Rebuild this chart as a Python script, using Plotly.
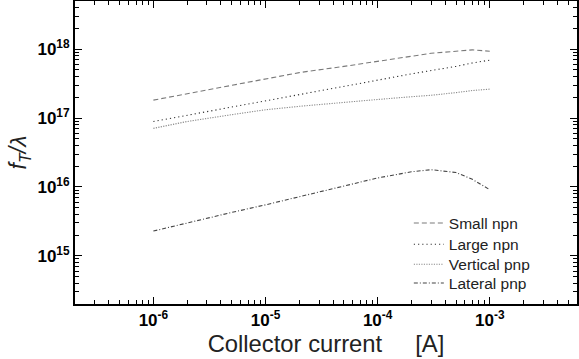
import plotly.graph_objects as go

current = [1e-6, 2e-6, 5e-6, 1e-5, 2e-5, 5e-5, 1e-4, 2e-4, 3e-4, 5e-4, 7e-4, 1e-3]
small_npn = [1.82e17, 2.24e17, 3.02e17, 3.72e17, 4.57e17, 5.62e17, 6.61e17, 7.94e17, 8.71e17, 9.33e17, 9.77e17, 9.33e17]
large_npn = [8.91e16, 1.10e17, 1.45e17, 1.78e17, 2.19e17, 2.88e17, 3.63e17, 4.37e17, 4.90e17, 5.62e17, 6.31e17, 6.92e17]
vertical_pnp = [7.08e16, 8.91e16, 1.12e17, 1.32e17, 1.48e17, 1.70e17, 1.86e17, 2.04e17, 2.14e17, 2.34e17, 2.51e17, 2.63e17]
lateral_pnp = [2.29e15, 3.02e15, 4.27e15, 5.50e15, 7.24e15, 1.05e16, 1.35e16, 1.66e16, 1.78e16, 1.62e16, 1.29e16, 9.12e15]

x_tickvals = [1e-6, 1e-5, 1e-4, 1e-3]
x_ticktext = ["10<sup>-6</sup>", "10<sup>-5</sup>", "10<sup>-4</sup>", "10<sup>-3</sup>"]
y_tickvals = [1e15, 1e16, 1e17, 1e18]
y_ticktext = ["10<sup>15</sup>", "10<sup>16</sup>", "10<sup>17</sup>", "10<sup>18</sup>"]

x_minor = [m * 10.0 ** e for e in range(-7, -2) for m in range(2, 10)]
y_minor = [m * 10.0 ** e for e in range(14, 19) for m in range(2, 10)]

series = [
    ("Small npn", small_npn, "#7a7a7a", "5px,3px"),
    ("Large npn", large_npn, "#333333", "1.2px,3px"),
    ("Vertical pnp", vertical_pnp, "#8a8a8a", "1.2px,1.3px"),
    ("Lateral pnp", lateral_pnp, "#444444", "4px,2px,1px,2px"),
]

FONT = "Arial"
tickfont = dict(family=FONT, size=17, color="black", weight="bold")

fig = go.Figure()
legend_layout = {}
legend_y = [0.266, 0.196, 0.130, 0.068]
for i, (name, vals, col, dash) in enumerate(series):
    key = "legend" if i == 0 else f"legend{i + 1}"
    fig.add_trace(go.Scatter(x=current, y=vals, mode="lines", name=name, legend=key,
                             line=dict(color=col, width=1.1, dash=dash)))
    legend_layout[key] = dict(x=0.665, y=legend_y[i], xanchor="left", yanchor="middle",
                              bgcolor="rgba(0,0,0,0)",
                              font=dict(family=FONT, size=15.5, color="#222"),
                              itemwidth=30)

fig.update_layout(
    width=579, height=359,
    margin=dict(l=75, r=2, t=1, b=55, autoexpand=False),
    paper_bgcolor="white", plot_bgcolor="white",
    font=dict(family=FONT, color="black"),
    showlegend=True,
    **legend_layout,
)
fig.update_xaxes(
    type="log", range=[-6.699, -2.222], automargin=False,
    showline=True, linecolor="black", linewidth=2, mirror="allticks",
    ticks="inside", ticklen=7, tickwidth=1.2, tickcolor="black",
    tickmode="array", tickvals=x_tickvals, ticktext=x_ticktext,
    tickfont=tickfont, showgrid=False, zeroline=False,
    minor=dict(tickmode="array", tickvals=x_minor, ticks="inside", ticklen=4,
               tickwidth=1, tickcolor="black", showgrid=False),
    title=dict(text="Collector current\u00a0\u00a0\u00a0\u00a0\u00a0[A]",
               font=dict(family=FONT, size=23.8, color="#222"), standoff=2),
)
fig.update_yaxes(
    type="log", range=[14.301, 18.699], automargin=False,
    showline=True, linecolor="black", linewidth=2, mirror="allticks",
    ticks="inside", ticklen=7, tickwidth=1.2, tickcolor="black",
    tickmode="array", tickvals=y_tickvals, ticktext=y_ticktext,
    tickfont=tickfont, showgrid=False, zeroline=False,
    minor=dict(tickmode="array", tickvals=y_minor, ticks="inside", ticklen=4,
               tickwidth=1, tickcolor="black", showgrid=False),
    title=dict(text="<i>f</i><sub><i>T</i></sub><i>/λ</i>",
               font=dict(family=FONT, size=23, color="#222"), standoff=4),
)

fig.write_html("out.html", config={"displayModeBar": False},
               post_script="document.body.style.margin='0';document.body.style.padding='0';")
